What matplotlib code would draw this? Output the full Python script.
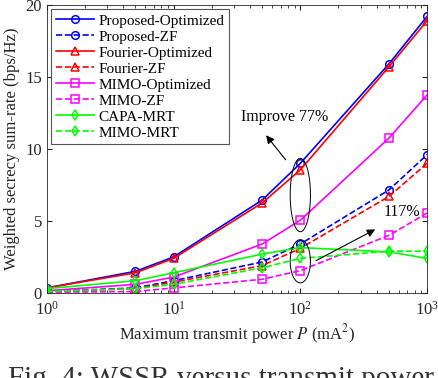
import numpy as np
import matplotlib
matplotlib.use('Agg')
import matplotlib.pyplot as plt

plt.rcParams['font.family'] = ['Liberation Serif', 'DejaVu Serif']
plt.rcParams['mathtext.fontset'] = 'stix'

# transmit power P (mA^2)
power = [1, 5, 10, 50, 100, 500, 1000]

proposed_opt = [0.35, 1.5, 2.5, 6.45, 9.0, 15.9, 19.2]
proposed_zf = [0.1, 0.35, 0.85, 2.15, 3.4, 7.15, 9.6]
fourier_opt = [0.35, 1.4, 2.4, 6.25, 8.55, 15.7, 18.9]
fourier_zf = [0.1, 0.3, 0.75, 1.9, 3.1, 6.7, 9.0]
mimo_opt = [0.15, 0.6, 1.1, 3.4, 5.05, 10.75, 13.75]
mimo_zf = [0.05, 0.1, 0.35, 0.95, 1.55, 4.0, 5.55]
capa_mrt = [0.3, 0.85, 1.4, 2.7, 3.15, 2.85, 2.4]
mimo_mrt = [0.1, 0.3, 0.6, 1.75, 2.4, 2.9, 2.9]

series = [
    ('Proposed-Optimized', proposed_opt, 'b', '-', 'o'),
    ('Proposed-ZF', proposed_zf, 'b', '--', 'o'),
    ('Fourier-Optimized', fourier_opt, 'r', '-', '^'),
    ('Fourier-ZF', fourier_zf, 'r', '--', '^'),
    ('MIMO-Optimized', mimo_opt, '#ff00ff', '-', 's'),
    ('MIMO-ZF', mimo_zf, '#ff00ff', '--', 's'),
    ('CAPA-MRT', capa_mrt, '#00ff00', '-', 'd'),
    ('MIMO-MRT', mimo_mrt, '#00ff00', '--', 'd'),
]

fig = plt.figure(figsize=(4.38, 3.78), dpi=100)
ax = fig.add_axes([0.107, 0.225, 0.868, 0.762])

for name, vals, c, ls, mk in series:
    ax.plot(power, vals, color=c, linestyle=ls, marker=mk, markerfacecolor='none',
            markersize=5.5, linewidth=1.2, markeredgewidth=1.1, label=name)

# ellipses around P = 100
t = np.linspace(0, 2 * np.pi, 200)
for yc, hb in [(6.8, 2.55), (2.2, 1.5)]:
    ax.plot(10 ** (2 + 0.08 * np.cos(t)), yc + hb * np.sin(t), color='k', linewidth=0.7)

ax.annotate('', xy=(52, 11.1), xytext=(79, 9.1),
            arrowprops=dict(arrowstyle='-|>', color='k', lw=0.8, mutation_scale=12))
ax.text(75, 12.2, 'Improve 77%', fontsize=11.5, ha='center', va='center')
ax.annotate('', xy=(408, 4.5), xytext=(127, 2.15),
            arrowprops=dict(arrowstyle='-|>', color='k', lw=0.8, mutation_scale=12))
ax.text(456, 5.6, '117%', fontsize=11.5, ha='left', va='center')

ax.set_xscale('log')
ax.set_xlim(1, 1000)
ax.set_ylim(0, 20)
ax.set_yticks([0, 5, 10, 15, 20])
ax.set_xlabel('Maximum transmit power $P$ (mA$^2$)', fontsize=12, color='#262626',
              labelpad=2)
ax.set_ylabel('Weighted secrecy sum-rate (bps/Hz)', fontsize=12, color='#262626')
ax.tick_params(which='both', direction='in', top=True, right=True, labelsize=12,
               colors='#262626')
ax.tick_params(axis='x', pad=6)
for s in ax.spines.values():
    s.set_color('#262626')
    s.set_linewidth(0.6)

leg = ax.legend(loc='upper left', fontsize=11, fancybox=False, framealpha=1,
                edgecolor='#555555', handlelength=2.5, borderaxespad=0.3,
                labelspacing=0.15, borderpad=0.3, handletextpad=0.3)
leg.get_frame().set_linewidth(0.8)

fig.text(0.018, -0.021, 'Fig. 4: WSSR versus transmit power.', fontsize=21,
         va='baseline', ha='left', color='#333333')

fig.savefig('out.png', dpi=100)
